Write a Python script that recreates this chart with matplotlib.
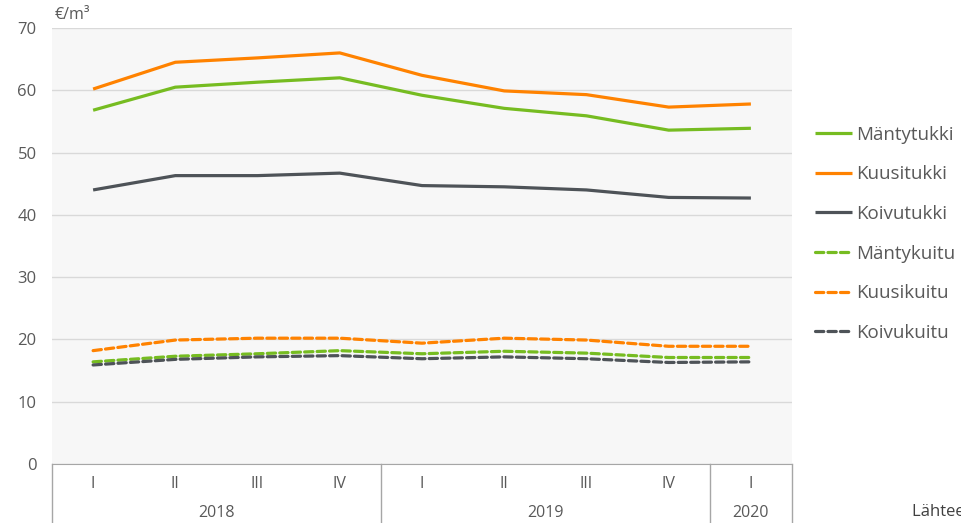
import matplotlib
matplotlib.use("Agg")
import matplotlib.pyplot as plt
from matplotlib.lines import Line2D

plt.rcParams['font.family'] = ['Open Sans', 'DejaVu Sans']

quarters = ["I", "II", "III", "IV", "I", "II", "III", "IV", "I"]
years = ["2018", "2019", "2020"]
year_counts = [4, 4, 1]

mantytukki = [56.8, 60.5, 61.3, 62.0, 59.2, 57.1, 55.9, 53.6, 53.9]
kuusitukki = [60.2, 64.5, 65.2, 66.0, 62.4, 59.9, 59.3, 57.3, 57.8]
koivutukki = [44.0, 46.3, 46.3, 46.7, 44.7, 44.5, 44.0, 42.8, 42.7]
mantykuitu = [16.4, 17.3, 17.7, 18.2, 17.7, 18.1, 17.8, 17.1, 17.1]
kuusikuitu = [18.2, 19.9, 20.2, 20.2, 19.4, 20.2, 19.9, 18.9, 18.9]
koivukuitu = [15.9, 16.8, 17.2, 17.4, 16.9, 17.2, 16.9, 16.3, 16.4]

series = [
    ("Mäntytukki", mantytukki, "#76bc21", "-"),
    ("Kuusitukki", kuusitukki, "#ff8200", "-"),
    ("Koivutukki", koivutukki, "#4e5358", "-"),
    ("Mäntykuitu", mantykuitu, "#76bc21", "--"),
    ("Kuusikuitu", kuusikuitu, "#ff8200", "--"),
    ("Koivukuitu", koivukuitu, "#4e5358", "--"),
]

W, H = 961, 523
fig = plt.figure(figsize=(W / 100, H / 100), dpi=100)
ax = fig.add_axes([52 / W, (H - 464) / H, 740 / W, 436 / H])
ax.set_facecolor("#f7f7f7")

x = list(range(len(quarters)))
handles = []
for name, vals, col, ls in series:
    if ls == "-":
        ln, = ax.plot(x, vals, color=col, lw=2.3, solid_joinstyle="round", solid_capstyle="butt", label=name)
    else:
        ln, = ax.plot(x, vals, color=col, lw=2.3, dashes=(2.6, 1.3), dash_capstyle="round", label=name)
    handles.append(ln)

ax.set_xlim(-0.5, len(quarters) - 0.5)
ax.set_ylim(0, 70)
ax.set_yticks(range(0, 71, 10))
ax.grid(axis="y", color="#d9d9d9", lw=1)
ax.set_axisbelow(True)
for s in ["top", "right", "left"]:
    ax.spines[s].set_visible(False)
ax.spines["bottom"].set_color("#a6a6a6")
ax.tick_params(axis="y", length=0, labelsize=12, labelcolor="#595959", pad=11)
ax.tick_params(axis="x", length=0, labelbottom=False)

# Multi-level category axis
for i, q in enumerate(quarters):
    ax.text(i, -0.045, q, transform=ax.get_xaxis_transform(), ha="center", va="center",
            fontsize=11.5, color="#595959")
start = 0
bounds = [-0.5]
for yname, cnt in zip(years, year_counts):
    mid = start + (cnt - 1) / 2
    ax.text(mid, -0.112, yname, transform=ax.get_xaxis_transform(), ha="center", va="center",
            fontsize=11.5, color="#595959")
    start += cnt
    bounds.append(start - 0.5)
for b in bounds:
    ax.add_line(Line2D([b, b], [0, -0.2], transform=ax.get_xaxis_transform(),
                       color="#a6a6a6", lw=1, clip_on=False))

fig.text(55 / W, 1 - 15 / H, "€/m³", ha="left", va="center", fontsize=11.5, color="#595959")

leg = fig.legend(handles=handles, loc="upper left", bbox_to_anchor=(798 / W, 1 - 109 / H),
                 frameon=False, fontsize=13.5, labelcolor="#595959", handlelength=2.0,
                 handletextpad=0.2, labelspacing=1.15)

fig.text(912 / W, 1 - 512 / H, "Lähteet: Luke", ha="left", va="center", fontsize=12, color="#404040")

fig.savefig("out.png", dpi=100)
